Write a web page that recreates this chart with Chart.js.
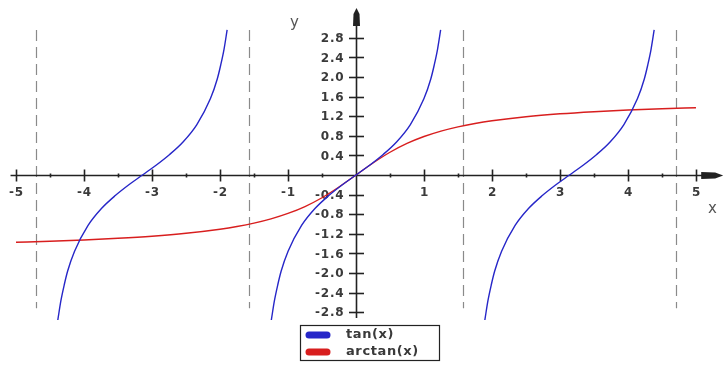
<!DOCTYPE html>
<html>
<head>
<meta charset="utf-8">
<script src="https://cdn.jsdelivr.net/npm/chart.js@4.4.1/dist/chart.umd.min.js"></script>
<style>
  html, body { margin: 0; padding: 0; background: #fff; }
  #wrap { width: 724px; height: 367px; }
</style>
</head>
<body>
<div id="wrap"><canvas id="plot"></canvas></div>
<script>
// tan(x), three branches, null marks the break at each asymptote
const tanX = [-4.385, -4.34, -4.29, -4.24, -4.14, -3.94, -3.74, -3.54, -3.34, -3.14, -2.94, -2.74, -2.54, -2.34, -2.14, -2.04, -1.99, -1.94, -1.895,
              -1.5708,
              -1.245, -1.20, -1.15, -1.10, -1.00, -0.80, -0.60, -0.40, -0.20, 0, 0.20, 0.40, 0.60, 0.80, 1.00, 1.10, 1.15, 1.20, 1.245,
              1.5708,
              1.895, 1.94, 1.99, 2.04, 2.14, 2.34, 2.54, 2.74, 2.94, 3.14, 3.34, 3.54, 3.74, 3.94, 4.14, 4.24, 4.29, 4.34, 4.385];
const tanY = [-2.96, -2.57, -2.24, -1.96, -1.56, -1.03, -0.68, -0.42, -0.20, 0, 0.20, 0.42, 0.68, 1.03, 1.56, 1.96, 2.24, 2.57, 2.96,
              null,
              -2.96, -2.57, -2.24, -1.96, -1.56, -1.03, -0.68, -0.42, -0.20, 0, 0.20, 0.42, 0.68, 1.03, 1.56, 1.96, 2.24, 2.57, 2.96,
              null,
              -2.96, -2.57, -2.24, -1.96, -1.56, -1.03, -0.68, -0.42, -0.20, 0, 0.20, 0.42, 0.68, 1.03, 1.56, 1.96, 2.24, 2.57, 2.96];

// arctan(x)
const atanX = [-5, -4.5, -4, -3.5, -3, -2.5, -2, -1.75, -1.5, -1.25, -1, -0.75, -0.5, -0.25, 0,
               0.25, 0.5, 0.75, 1, 1.25, 1.5, 1.75, 2, 2.5, 3, 3.5, 4, 4.5, 5];
const atanY = [-1.373, -1.352, -1.326, -1.292, -1.249, -1.190, -1.107, -1.052, -0.983, -0.896, -0.785, -0.644, -0.464, -0.245, 0,
               0.245, 0.464, 0.644, 0.785, 0.896, 0.983, 1.052, 1.107, 1.190, 1.249, 1.292, 1.326, 1.352, 1.373];

// vertical asymptotes of tan
const asymptotes = [-4.7124, -1.5708, 1.5708, 4.7124];

// tick labels
const xTicks = [-5, -4, -3, -2, -1, 1, 2, 3, 4, 5];
const xMinorTicks = [-4.5, -3.5, -2.5, -1.5, -0.5, 0.5, 1.5, 2.5, 3.5, 4.5];
const yTicks = ['2.8', '2.4', '2.0', '1.6', '1.2', '0.8', '0.4', '-0.4', '-0.8', '-1.2', '-1.6', '-2.0', '-2.4', '-2.8'];

const seriesNames = ['tan(x)', 'arctan(x)'];
const seriesColors = ['#2626c8', '#d81e1e'];

const toPoints = (xs, ys) => xs.map((x, i) => ({ x: x, y: ys[i] }));

const INK = '#3a3a3a';

// axes through the origin, asymptotes, arrows and the legend box
const axesPlugin = {
  id: 'originAxes',
  beforeDatasetsDraw(chart) {
    const { ctx, scales: { x, y } } = chart;
    const x0 = x.getPixelForValue(0);
    const y0 = y.getPixelForValue(0);
    ctx.save();

    // dashed asymptotes
    ctx.strokeStyle = '#8a8a8a';
    ctx.lineWidth = 1.2;
    ctx.setLineDash([11, 6]);
    asymptotes.forEach(a => {
      const px = Math.round(x.getPixelForValue(a)) + 0.5;
      ctx.beginPath();
      ctx.moveTo(px, y.getPixelForValue(2.96));
      ctx.lineTo(px, y.getPixelForValue(-2.72));
      ctx.stroke();
    });
    ctx.setLineDash([]);

    // x axis
    ctx.strokeStyle = '#222';
    ctx.fillStyle = '#222';
    ctx.lineWidth = 1.6;
    const yAxisPx = Math.round(y0) + 0.5;
    ctx.beginPath();
    ctx.moveTo(x.getPixelForValue(-5.08), yAxisPx);
    ctx.lineTo(x.getPixelForValue(5.3), yAxisPx);
    ctx.stroke();
    // arrow on x axis
    const xTip = x.getPixelForValue(5.4);
    ctx.beginPath();
    ctx.moveTo(xTip, yAxisPx);
    ctx.lineTo(xTip - 8, yAxisPx - 3);
    ctx.lineTo(xTip - 22, yAxisPx - 3.5);
    ctx.lineTo(xTip - 22, yAxisPx + 3.5);
    ctx.lineTo(xTip - 8, yAxisPx + 3);
    ctx.closePath();
    ctx.fill();

    // y axis
    const xAxisPx = Math.round(x0) + 0.5;
    ctx.beginPath();
    ctx.moveTo(xAxisPx, y.getPixelForValue(-2.92));
    ctx.lineTo(xAxisPx, y.getPixelForValue(3.1));
    ctx.stroke();
    // arrow on y axis
    const yTip = y.getPixelForValue(3.41);
    ctx.beginPath();
    ctx.moveTo(xAxisPx, yTip);
    ctx.lineTo(xAxisPx - 3, yTip + 6);
    ctx.lineTo(xAxisPx - 3.5, yTip + 18);
    ctx.lineTo(xAxisPx + 3.5, yTip + 18);
    ctx.lineTo(xAxisPx + 3, yTip + 6);
    ctx.closePath();
    ctx.fill();

    // x ticks
    xTicks.forEach(v => {
      const px = Math.round(x.getPixelForValue(v)) + 0.5;
      ctx.beginPath();
      ctx.moveTo(px, yAxisPx - 6);
      ctx.lineTo(px, yAxisPx + 6);
      ctx.stroke();
    });
    xMinorTicks.forEach(v => {
      const px = Math.round(x.getPixelForValue(v)) + 0.5;
      ctx.beginPath();
      ctx.moveTo(px, yAxisPx - 2);
      ctx.lineTo(px, yAxisPx + 2);
      ctx.stroke();
    });
    // y ticks
    yTicks.forEach(t => {
      const py = Math.round(y.getPixelForValue(parseFloat(t))) + 0.5;
      ctx.beginPath();
      ctx.moveTo(xAxisPx - 7.5, py);
      ctx.lineTo(xAxisPx + 7.5, py);
      ctx.stroke();
    });

    // tick labels
    ctx.font = 'bold 12px "DejaVu Sans"';
    ctx.letterSpacing = '0.8px';
    ctx.fillStyle = INK;
    ctx.textAlign = 'center';
    ctx.textBaseline = 'top';
    xTicks.forEach(v => {
      ctx.fillText(String(v), x.getPixelForValue(v) + 0.5, yAxisPx + 11);
    });
    ctx.textAlign = 'right';
    ctx.textBaseline = 'middle';
    yTicks.forEach(t => {
      ctx.fillText(t, xAxisPx - 12, y.getPixelForValue(parseFloat(t)) + 1);
    });
    ctx.letterSpacing = '0px';

    // axis names
    ctx.font = '15px "DejaVu Sans"';
    ctx.fillStyle = '#555';
    ctx.textAlign = 'left';
    ctx.textBaseline = 'alphabetic';
    ctx.fillText('x', 708, 213);
    ctx.fillText('y', 290, 27);
    ctx.restore();
  },
  afterDraw(chart) {
    const { ctx } = chart;
    ctx.save();
    // legend
    const left = 300, top = 325, w = 139, h = 35;
    ctx.strokeStyle = '#222';
    ctx.lineWidth = 1.2;
    ctx.strokeRect(left + 0.5, top + 0.5, w, h);
    ctx.font = 'bold 13px "DejaVu Sans"';
    ctx.letterSpacing = '0.6px';
    ctx.textAlign = 'left';
    ctx.textBaseline = 'middle';
    seriesNames.forEach((name, i) => {
      const cy = top + 10 + i * 17;
      ctx.fillStyle = seriesColors[i];
      ctx.beginPath();
      ctx.moveTo(left + 9, cy - 3.5);
      ctx.lineTo(left + 27, cy - 3.5);
      ctx.arc(left + 27, cy, 3.5, -Math.PI / 2, Math.PI / 2);
      ctx.lineTo(left + 9, cy + 3.5);
      ctx.arc(left + 9, cy, 3.5, Math.PI / 2, Math.PI * 1.5);
      ctx.fill();
      ctx.fillStyle = INK;
      ctx.fillText(name, left + 46, cy);
    });
    ctx.restore();
  }
};

new Chart(document.getElementById('plot').getContext('2d'), {
  type: 'line',
  data: {
    datasets: [
      {
        label: seriesNames[0],
        data: toPoints(tanX, tanY),
        borderColor: seriesColors[0],
        borderWidth: 1.4,
        pointRadius: 0,
        spanGaps: false,
        cubicInterpolationMode: 'monotone',
        fill: false
      },
      {
        label: seriesNames[1],
        data: toPoints(atanX, atanY),
        borderColor: seriesColors[1],
        borderWidth: 1.4,
        pointRadius: 0,
        cubicInterpolationMode: 'monotone',
        fill: false
      }
    ]
  },
  options: {
    responsive: true,
    maintainAspectRatio: false,
    animation: false,
    layout: { padding: { top: 0, left: 0, right: 0, bottom: 47 } },
    plugins: {
      legend: { display: false },
      tooltip: { enabled: false }
    },
    scales: {
      x: { type: 'linear', min: -5.235, max: 5.412, display: false },
      y: { type: 'linear', min: -2.959, max: 3.571, display: false }
    }
  },
  plugins: [axesPlugin]
});
</script>
</body>
</html>
